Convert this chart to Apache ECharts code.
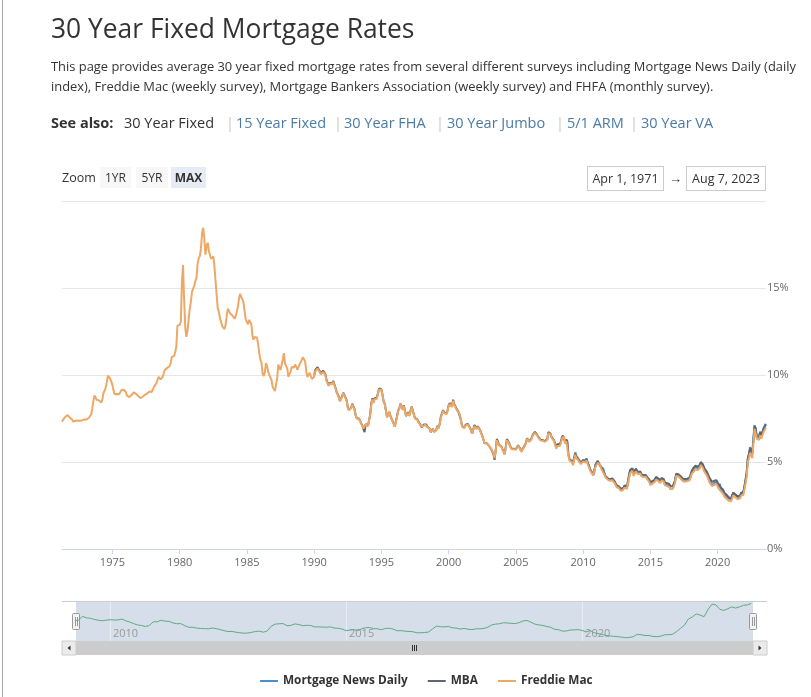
<!DOCTYPE html>
<html>
<head>
<meta charset="utf-8">
<script src="https://cdn.jsdelivr.net/npm/echarts@6/dist/echarts.min.js"></script>
<style>
  html, body { margin:0; padding:0; background:#fff; }
  body { width:811px; height:697px; overflow:hidden; position:relative; font-family:'Open Sans', sans-serif; color:#333; }
  #chart { position:absolute; left:0; top:0; width:811px; height:697px; z-index:0; }
  .ov { position:absolute; z-index:2; white-space:nowrap; }
  #lb { position:absolute; left:2px; top:0; width:1px; height:697px; background:#aaa; z-index:2; }
  .title { left:51px; top:11px; font-size:26.4px; line-height:34px; color:#333; }
  .para { left:51px; top:56px; font-size:12.9px; line-height:20px; color:#333; }
  .see { top:112px; font-size:14.5px; line-height:22px; }
  .sep { color:#c8c8c8; }
  .lnk { color:#4b7aa6; }
  .btn { top:167px; height:21px; line-height:21px; font-size:12px; text-align:center; background:#f7f7f7; color:#333; }
  .box { top:166px; height:23px; line-height:23px; font-size:12.5px; text-align:center; border:1px solid #cccccc; color:#333; background:#fff; }
</style>
</head>
<body>
<div id="chart"></div>
<div id="lb"></div>
<div class="ov title">30 Year Fixed Mortgage Rates</div>
<div class="ov para">This page provides average 30 year fixed mortgage rates from several different surveys including Mortgage News Daily (daily<br>index), Freddie Mac (weekly survey), Mortgage Bankers Association (weekly survey) and FHFA (monthly survey).</div>
<div class="ov see" style="left:51px;font-weight:bold;">See also:</div>
<div class="ov see" style="left:124px;">30 Year Fixed</div>
<div class="ov see sep" style="left:226px;">|</div>
<div class="ov see lnk" style="left:236px;">15 Year Fixed</div>
<div class="ov see sep" style="left:334px;">|</div>
<div class="ov see lnk" style="left:344px;">30 Year FHA</div>
<div class="ov see sep" style="left:436px;">|</div>
<div class="ov see lnk" style="left:447px;">30 Year Jumbo</div>
<div class="ov see sep" style="left:556px;">|</div>
<div class="ov see lnk" style="left:567px;">5/1 ARM</div>
<div class="ov see sep" style="left:630px;">|</div>
<div class="ov see lnk" style="left:641px;">30 Year VA</div>
<div class="ov" style="left:62px;top:167px;height:21px;line-height:21px;font-size:12.5px;color:#333;">Zoom</div>
<div class="ov btn" style="left:100px;width:31px;">1YR</div>
<div class="ov btn" style="left:136px;width:32px;">5YR</div>
<div class="ov btn" style="left:171px;width:35px;background:#e6ebf5;font-weight:bold;">MAX</div>
<div class="ov box" style="left:587px;width:75px;">Apr 1, 1971</div>
<div class="ov" style="left:669px;top:166px;height:25px;line-height:25px;font-size:13px;color:#333;">→</div>
<div class="ov box" style="left:686px;width:78px;">Aug 7, 2023</div>
<script>
// ---- Data (monthly averages) ----
// Freddie Mac: monthly from Apr 1971
const freddieStart = 1971.25;
const freddie = [
  7.31,7.43,7.53,7.60,7.70,7.69,7.63,7.55,7.48,
  7.44,7.32,7.29,7.37,7.41,7.38,7.40,7.37,7.40,7.40,7.43,7.44,
  7.44,7.44,7.46,7.54,7.65,7.73,8.05,8.50,8.82,8.77,8.58,8.54,
  8.54,8.46,8.41,8.58,8.97,9.09,9.28,9.59,9.96,9.98,9.79,9.62,
  9.43,9.10,8.89,8.82,8.91,8.89,8.89,8.94,9.13,9.22,9.15,9.10,
  9.02,8.81,8.76,8.73,8.76,8.85,8.93,9.00,8.98,8.92,8.81,8.79,
  8.72,8.67,8.69,8.75,8.83,8.86,8.94,8.94,9.03,9.05,9.00,9.02,
  9.15,9.32,9.32,9.50,9.65,9.89,9.93,9.75,9.78,9.91,10.16,10.31,
  10.39,10.41,10.43,10.50,10.69,11.04,11.09,11.09,11.30,11.64,12.83,12.90,
  12.88,13.04,15.28,16.32,14.26,12.71,12.19,12.56,13.20,13.79,14.21,14.79,
  14.90,15.13,15.40,15.58,16.40,16.70,16.83,17.29,18.16,18.45,17.83,16.92,
  17.40,17.60,17.16,16.89,16.68,16.70,16.82,16.27,15.43,14.61,13.83,13.62,
  13.25,13.04,12.80,12.78,12.63,12.87,13.42,13.81,13.73,13.54,13.44,13.42,
  13.37,13.23,13.39,13.65,13.94,14.42,14.67,14.47,14.35,14.13,13.64,13.18,
  13.08,12.92,13.17,13.20,12.91,12.22,12.03,12.19,12.19,12.14,11.78,11.26,
  10.88,10.71,10.08,9.94,10.14,10.68,10.51,10.20,10.01,9.97,9.70,9.31,
  9.20,9.08,9.04,9.83,10.60,10.54,10.28,10.33,10.89,11.26,10.65,10.64,
  10.38,9.89,9.93,10.20,10.46,10.46,10.43,10.60,10.48,10.30,10.27,10.61,
  10.73,10.65,11.03,11.05,10.77,10.20,9.88,9.99,10.13,9.95,9.77,9.74,
  9.90,10.20,10.27,10.37,10.48,10.16,10.04,10.10,10.18,10.18,10.01,9.67,
  9.64,9.37,9.50,9.49,9.47,9.62,9.58,9.24,9.01,8.86,8.71,8.50,
  8.43,8.76,8.94,8.85,8.67,8.51,8.13,7.98,7.92,8.09,8.31,8.22,
  8.02,7.68,7.50,7.47,7.47,7.42,7.21,7.11,6.92,6.83,7.16,7.17,
  7.06,7.15,7.68,8.32,8.60,8.40,8.61,8.51,8.64,8.93,9.17,9.20,
  9.15,8.83,8.46,8.32,7.96,7.57,7.61,7.86,7.64,7.48,7.38,7.20,
  7.03,7.08,7.62,7.93,8.07,8.32,8.25,8.00,8.23,7.92,7.62,7.60,
  7.82,7.65,7.90,8.14,7.94,7.69,7.50,7.48,7.43,7.29,7.21,7.10,
  6.99,7.04,7.13,7.14,7.14,7.00,6.95,6.92,6.72,6.71,6.87,6.72,
  6.79,6.81,7.04,6.92,7.15,7.55,7.63,7.94,7.82,7.85,7.74,7.91,
  8.21,8.33,8.24,8.15,8.52,8.29,8.15,8.03,7.91,7.80,7.75,7.38,
  7.03,7.05,6.95,7.08,7.15,7.16,7.13,6.95,6.82,6.62,6.66,7.07,
  7.00,6.89,7.01,6.99,6.81,6.65,6.49,6.29,6.09,6.11,6.07,6.05,
  5.92,5.84,5.75,5.81,5.48,5.23,5.63,6.26,6.15,5.95,5.93,5.88,
  5.71,5.64,5.45,5.83,6.27,6.29,6.06,5.87,5.75,5.72,5.73,5.75,
  5.71,5.63,5.93,5.86,5.72,5.58,5.70,5.82,5.77,6.07,6.33,6.27,
  6.15,6.25,6.32,6.51,6.60,6.68,6.76,6.52,6.40,6.36,6.24,6.14,
  6.22,6.29,6.16,6.18,6.26,6.66,6.70,6.57,6.38,6.38,6.21,6.10,
  5.76,5.92,5.97,5.92,6.04,6.32,6.43,6.48,6.04,6.20,6.09,5.33,
  5.06,5.13,5.00,4.81,4.86,5.42,5.22,5.19,5.06,4.95,4.88,4.93,
  5.03,4.99,4.97,5.10,4.89,4.74,4.56,4.43,4.35,4.23,4.30,4.71,
  4.76,4.95,4.84,4.84,4.64,4.51,4.55,4.27,4.11,4.07,3.99,3.96,
  3.92,3.89,3.95,3.91,3.80,3.68,3.55,3.60,3.50,3.38,3.35,3.35,
  3.41,3.53,3.57,3.45,3.54,4.07,4.37,4.46,4.49,4.19,4.26,4.46,
  4.43,4.30,4.34,4.34,4.19,4.16,4.13,4.12,4.16,4.04,4.00,3.86,
  3.67,3.71,3.77,3.67,3.84,3.98,4.05,3.91,3.89,3.80,3.94,3.96,
  3.87,3.66,3.69,3.61,3.60,3.57,3.44,3.44,3.46,3.47,3.77,4.20,
  4.15,4.17,4.20,4.05,4.01,3.90,3.97,3.88,3.81,3.90,3.92,3.95,
  4.03,4.33,4.44,4.47,4.59,4.57,4.53,4.55,4.63,4.83,4.87,4.64,
  4.46,4.37,4.27,4.14,4.07,3.80,3.77,3.62,3.61,3.69,3.70,3.72,
  3.62,3.47,3.45,3.31,3.23,3.16,3.02,2.94,2.89,2.83,2.77,2.68,
  2.74,2.81,3.08,3.06,2.96,2.98,2.87,2.84,2.90,3.07,3.07,3.10,
  3.45,3.76,4.17,4.98,5.23,5.52,5.41,5.22,6.11,6.90,6.81,6.36,
  6.27,6.26,6.54,6.34,6.43,6.71,6.84,6.96
];
// MBA: monthly from Jan 1990
const mbaStart = 1990.0;
const mba = [
  10.00,10.28,10.35,10.45,10.55,10.22,10.10,10.18,10.25,10.22,10.05,9.72,
  9.68,9.40,9.55,9.52,9.50,9.66,9.60,9.28,9.05,8.90,8.74,8.50,
  8.45,8.80,8.98,8.88,8.70,8.55,8.15,8.00,7.92,8.12,8.35,8.25,
  8.05,7.70,7.52,7.48,7.50,7.44,7.22,7.10,6.88,6.72,7.18,7.20,
  7.08,7.18,7.72,8.38,8.66,8.45,8.66,8.55,8.70,8.98,9.22,9.25,
  9.18,8.86,8.48,8.35,7.98,7.58,7.64,7.88,7.66,7.50,7.40,7.20,
  7.04,7.10,7.66,7.96,8.10,8.35,8.28,8.04,8.26,7.95,7.64,7.62,
  7.86,7.68,7.94,8.18,7.98,7.72,7.52,7.50,7.46,7.32,7.24,7.12,
  7.00,7.06,7.16,7.16,7.16,7.02,6.98,6.94,6.72,6.70,6.90,6.74,
  6.82,6.84,7.08,6.95,7.18,7.60,7.68,7.98,7.86,7.90,7.78,7.96,
  8.26,8.38,8.30,8.20,8.58,8.34,8.20,8.08,7.96,7.84,7.80,7.42,
  7.06,7.08,6.98,7.12,7.20,7.20,7.16,6.98,6.84,6.62,6.70,7.12,
  7.04,6.92,7.06,7.02,6.84,6.68,6.52,6.30,6.08,6.12,6.08,6.06,
  5.92,5.84,5.74,5.82,5.44,5.12,5.68,6.32,6.18,5.98,5.96,5.90,
  5.74,5.66,5.46,5.88,6.32,6.34,6.10,5.90,5.78,5.74,5.76,5.78,
  5.74,5.66,5.96,5.90,5.76,5.62,5.74,5.86,5.80,6.10,6.36,6.30,
  6.18,6.28,6.36,6.56,6.66,6.74,6.80,6.56,6.44,6.40,6.28,6.18,
  6.26,6.32,6.20,6.22,6.32,6.72,6.74,6.62,6.42,6.40,6.26,6.16,
  5.86,6.02,6.08,6.02,6.14,6.40,6.52,6.56,6.12,6.30,6.18,5.40,
  5.14,5.20,5.06,4.88,4.90,5.46,5.28,5.26,5.12,5.00,4.94,4.98,
  5.10,5.06,5.04,5.18,4.96,4.82,4.62,4.50,4.40,4.28,4.38,4.80,
  4.86,5.06,4.94,4.92,4.72,4.60,4.62,4.36,4.18,4.16,4.06,4.02,
  4.00,3.98,4.06,4.02,3.90,3.78,3.66,3.68,3.58,3.48,3.46,3.46,
  3.52,3.66,3.70,3.58,3.66,4.22,4.52,4.62,4.64,4.36,4.44,4.62,
  4.58,4.42,4.46,4.46,4.30,4.26,4.24,4.22,4.26,4.14,4.10,4.00,
  3.82,3.86,3.92,3.82,3.98,4.14,4.18,4.06,4.02,3.94,4.08,4.10,
  4.02,3.82,3.84,3.78,3.76,3.72,3.60,3.60,3.62,3.64,3.92,4.32,
  4.30,4.30,4.32,4.18,4.14,4.04,4.10,4.02,3.96,4.04,4.06,4.10,
  4.20,4.50,4.62,4.66,4.78,4.78,4.74,4.74,4.82,5.00,5.06,4.86,
  4.66,4.56,4.48,4.36,4.30,4.06,4.02,3.86,3.86,3.92,3.94,3.96,
  3.86,3.70,3.74,3.52,3.46,3.40,3.24,3.16,3.12,3.02,2.96,2.88,
  2.92,3.00,3.24,3.24,3.12,3.14,3.04,3.00,3.06,3.22,3.24,3.28,
  3.62,3.98,4.42,5.22,5.46,5.78,5.66,5.46,6.30,7.08,6.96,6.46,
  6.36,6.44,6.70,6.52,6.62,6.88,7.00,7.16
];
// Mortgage News Daily: monthly from Apr 2009
const mndStart = 2009.25;
const mnd = [
  5.00,5.05,5.55,5.35,5.30,5.15,5.05,4.98,5.05,
  5.12,5.08,5.08,5.20,4.98,4.82,4.62,4.45,4.38,4.25,4.38,4.85,
  4.85,5.05,4.92,4.92,4.70,4.60,4.62,4.35,4.15,4.15,4.05,4.00,
  3.98,3.95,4.05,3.98,3.85,3.72,3.60,3.62,3.52,3.45,3.40,3.42,
  3.50,3.62,3.65,3.52,3.70,4.30,4.55,4.60,4.62,4.35,4.40,4.58,
  4.50,4.35,4.40,4.38,4.20,4.20,4.18,4.15,4.20,4.05,4.02,3.92,
  3.72,3.80,3.85,3.75,3.95,4.10,4.12,3.98,3.95,3.85,4.00,4.02,
  3.92,3.70,3.72,3.65,3.62,3.58,3.45,3.45,3.48,3.55,3.95,4.30,
  4.22,4.20,4.25,4.08,4.05,3.92,4.00,3.90,3.85,3.95,3.95,4.00,
  4.15,4.45,4.55,4.60,4.72,4.70,4.65,4.62,4.75,4.95,5.02,4.80,
  4.55,4.45,4.38,4.25,4.15,3.90,3.85,3.65,3.68,3.80,3.82,3.85,
  3.75,3.55,3.75,3.45,3.35,3.25,3.10,3.05,3.00,2.95,2.90,2.82,
  2.85,2.95,3.25,3.20,3.10,3.10,2.98,2.95,3.02,3.20,3.20,3.25,
  3.60,4.00,4.40,5.20,5.45,5.85,5.70,5.50,6.40,7.10,7.00,6.45,
  6.30,6.50,6.75,6.60,6.75,6.95,7.00,7.20
];
const seriesNames = ['Mortgage News Daily', 'MBA', 'Freddie Mac'];
const xTickYears = [1975, 1980, 1985, 1990, 1995, 2000, 2005, 2010, 2015, 2020];
const navTickYears = [2010, 2015, 2020];
const yTicks = [0, 5, 10, 15, 20];

function monthly(start, values) {
  return values.map((v, i) => [start + i / 12, v]);
}

const FONT = "'Open Sans', sans-serif";
const chart = echarts.init(document.getElementById('chart'), null, { renderer: 'canvas' });

const option = {
  animation: false,
  textStyle: { fontFamily: FONT },
  grid: [
    { left: 62, right: 45, top: 201, height: 348, containLabel: false },
    { left: 76, right: 58, top: 601, height: 40, show: true, backgroundColor: '#d6dee9', borderWidth: 0 }
  ],
  legend: {
    data: seriesNames,
    top: 670,
    left: 255,
    icon: 'rect',
    itemWidth: 18,
    itemHeight: 2,
    itemGap: 20,
    textStyle: { fontFamily: FONT, fontSize: 11.8, fontWeight: 'bold', color: '#333' }
  },
  xAxis: [
    {
      type: 'value', gridIndex: 0, min: freddieStart, max: 2023.6,
      splitLine: { show: false },
      axisLine: { lineStyle: { color: '#ccd6eb' } },
      axisTick: { customValues: xTickYears, length: 5, lineStyle: { color: '#ccd6eb' } },
      axisLabel: { customValues: xTickYears, color: '#666', fontSize: 11, margin: 8, fontFamily: FONT,
        formatter: v => String(Math.round(v)) }
    },
    {
      type: 'value', gridIndex: 1, min: 2009.28, max: 2023.62,
      splitLine: { show: false },
      axisLine: { show: false },
      axisTick: { customValues: navTickYears, inside: true, length: 40, lineStyle: { color: 'rgba(255,255,255,0.45)' } },
      axisLabel: { customValues: navTickYears, inside: true, align: 'left', margin: 2, padding: [0, 0, 0, 3], color: '#999', fontSize: 11, fontFamily: FONT,
        formatter: v => String(Math.round(v)) }
    }
  ],
  yAxis: [
    {
      type: 'value', gridIndex: 0, position: 'right', min: 0, max: 20, interval: 5,
      axisLine: { show: false }, axisTick: { show: false },
      splitLine: { lineStyle: { color: '#e6e6e6' } },
      axisLabel: {
        margin: 1, color: '#666', fontSize: 11, fontFamily: FONT, padding: [0, 0, 5, 0],
        formatter: v => (v === yTicks[yTicks.length - 1] ? '' : v + '%')
      }
    },
    { type: 'value', gridIndex: 1, min: 2.4, max: 7.5, show: false }
  ],
  series: [
    { name: seriesNames[0], type: 'line', xAxisIndex: 0, yAxisIndex: 0, data: monthly(mndStart, mnd),
      showSymbol: false, symbol: 'none', color: '#4a8fd2', lineStyle: { width: 2 } },
    { name: seriesNames[1], type: 'line', xAxisIndex: 0, yAxisIndex: 0, data: monthly(mbaStart, mba),
      showSymbol: false, symbol: 'none', color: '#5f6670', lineStyle: { width: 2 } },
    { name: seriesNames[2], type: 'line', xAxisIndex: 0, yAxisIndex: 0, data: monthly(freddieStart, freddie),
      showSymbol: false, symbol: 'none', color: '#eea865', lineStyle: { width: 2 } },
    { name: 'navigator', type: 'line', xAxisIndex: 1, yAxisIndex: 1, data: monthly(mndStart, mnd),
      showSymbol: false, symbol: 'none', color: '#5faa82', lineStyle: { width: 1 } }
  ],
  graphic: [
    { type: 'line', shape: { x1: 62, y1: 601.5, x2: 767, y2: 601.5 }, style: { stroke: '#cccccc', lineWidth: 1 }, silent: true },
    { type: 'rect', shape: { x: 62, y: 641, width: 705, height: 14 }, style: { fill: '#f2f2f2' }, silent: true },
    { type: 'rect', shape: { x: 76, y: 641, width: 677, height: 14 }, style: { fill: '#cccccc' }, silent: true },
    { type: 'rect', shape: { x: 62, y: 641, width: 14, height: 14 }, style: { fill: '#ebebeb', stroke: '#cccccc', lineWidth: 1 }, silent: true },
    { type: 'rect', shape: { x: 753, y: 641, width: 14, height: 14 }, style: { fill: '#ebebeb', stroke: '#cccccc', lineWidth: 1 }, silent: true },
    { type: 'polygon', shape: { points: [[67.5, 648], [70.5, 645.5], [70.5, 650.5]] }, style: { fill: '#333' }, silent: true },
    { type: 'polygon', shape: { points: [[761.5, 648], [758.5, 645.5], [758.5, 650.5]] }, style: { fill: '#333' }, silent: true },
    { type: 'line', shape: { x1: 412.5, y1: 645, x2: 412.5, y2: 651 }, style: { stroke: '#333', lineWidth: 1 }, silent: true },
    { type: 'line', shape: { x1: 414.5, y1: 645, x2: 414.5, y2: 651 }, style: { stroke: '#333', lineWidth: 1 }, silent: true },
    { type: 'line', shape: { x1: 416.5, y1: 645, x2: 416.5, y2: 651 }, style: { stroke: '#333', lineWidth: 1 }, silent: true },
    { type: 'rect', shape: { x: 72.5, y: 613.5, width: 7, height: 16, r: 1 }, style: { fill: '#f2f2f2', stroke: '#999', lineWidth: 1 }, silent: true },
    { type: 'line', shape: { x1: 75.5, y1: 617, x2: 75.5, y2: 626 }, style: { stroke: '#999', lineWidth: 1 }, silent: true },
    { type: 'line', shape: { x1: 77.5, y1: 617, x2: 77.5, y2: 626 }, style: { stroke: '#999', lineWidth: 1 }, silent: true },
    { type: 'rect', shape: { x: 749.5, y: 613.5, width: 7, height: 16, r: 1 }, style: { fill: '#f2f2f2', stroke: '#999', lineWidth: 1 }, silent: true },
    { type: 'line', shape: { x1: 752.5, y1: 617, x2: 752.5, y2: 626 }, style: { stroke: '#999', lineWidth: 1 }, silent: true },
    { type: 'line', shape: { x1: 754.5, y1: 617, x2: 754.5, y2: 626 }, style: { stroke: '#999', lineWidth: 1 }, silent: true }
  ]
};
chart.setOption(option);
</script>
</body>
</html>
